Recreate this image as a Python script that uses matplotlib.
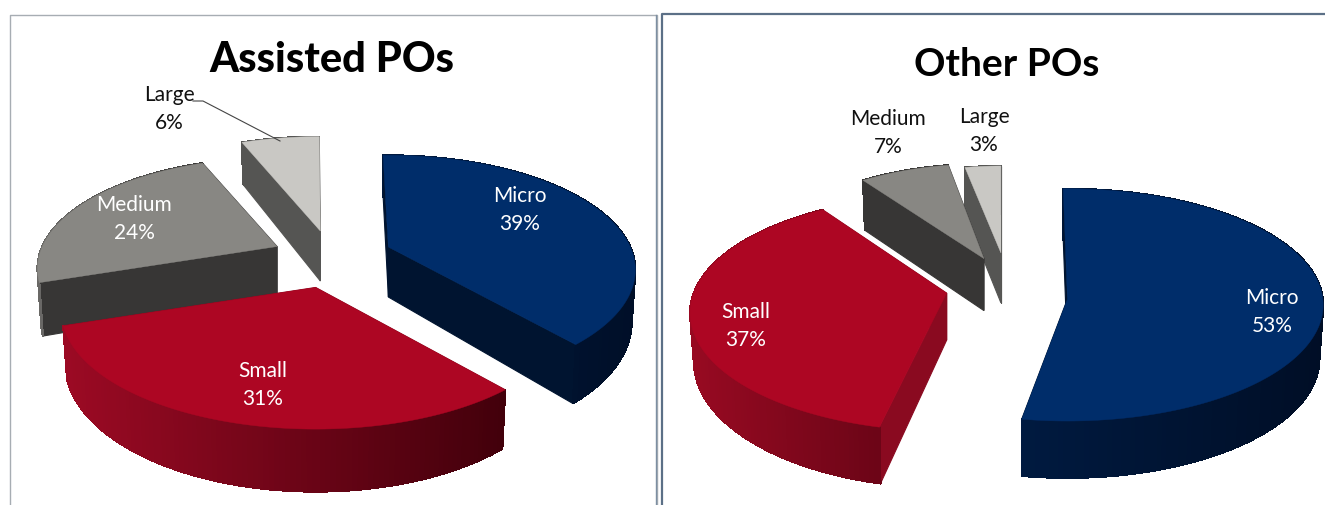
import matplotlib
matplotlib.use("Agg")
import matplotlib.pyplot as plt
import numpy as np
from matplotlib.colors import to_rgb

plt.rcParams["font.family"] = ["Lato", "DejaVu Sans"]

SIZES = ["Micro", "Small", "Medium", "Large"]
ASSISTED_SHARE = [39, 31, 24, 6]
OTHER_SHARE = [53, 37, 7, 3]

TOP_COLORS = ["#002d6a", "#ad0623", "#888783", "#c9c8c4"]
CUT_COLORS = ["#001430", "#8a0a20", "#373635", "#555553"]
LABEL_COLORS_LEFT = ["white", "white", "white", "#111111"]
LABEL_COLORS_RIGHT = ["white", "white", "#111111", "#111111"]

# perspective pies, all in pixel space
# wall shading runs from the left end of a slice to its right end
LEFT_PIE = dict(center=(332, 258), rx=242, ry=110, k=[0.20, 0.20, 0.20, 0.20],
                start=91.5, depth=[50, 50, 50, 50],
                explode=[0.25, 0.25, 0.25, 0.25], scale=[1, 1.03, 0.97, 1.03],
                turn=[0, -1, -1, -1.2], lift=[0, -4, -1, -1],
                walls=[("#001a40", "#000f28"), ("#9c0a24", "#42000b"),
                       ("#6a6966", "#373635"), ("#555553", "#555553")])
RIGHT_PIE = dict(center=(1007, 296), rx=258, ry=117, k=[0.05, 0.17, 0.05, 0.05],
                 start=92, depth=[54, 47, 52, 50],
                 explode=[0.235, 0.238, 0.235, 0.25], scale=[0.99, 0.98, 0.85, 0.78],
                 turn=[-1, -4, -3, -2], lift=[-2, 7, 11, 13],
                 walls=[("#001a40", "#000e26"), ("#980a22", "#6c0517"),
                        ("#373635", "#373635"), ("#555553", "#555553")])

LEFT_LABELS = [(520, 210), (263, 385), (134, 219), (169, 109)]
RIGHT_LABELS = [(1272, 312), (746, 326), (888, 133), (984, 131)]


def draw_slice(ax, pie, i, t0, t1):
    # t0 > t1, angles run clockwise on screen
    t0 += pie["turn"][i]
    t1 += pie["turn"][i]
    mid = np.radians((t0 + t1) / 2)
    e = pie["explode"][i]
    ax_x = pie["center"][0] + e * pie["rx"] * np.cos(mid)
    ax_y = pie["center"][1] - e * pie["ry"] * np.sin(mid) - pie["lift"][i]

    t = np.radians(np.linspace(t0, t1, max(int(t0 - t1), 8)))
    denom = 1 + pie["k"][i] * np.sin(t)
    x = ax_x + pie["scale"][i] * pie["rx"] * np.cos(t) / denom
    y = ax_y - pie["scale"][i] * pie["ry"] * np.sin(t) / denom
    low_x = ax_x + (x - ax_x) * 0.985
    low_y = y + pie["depth"][i] / denom
    low_ax_y = ax_y + pie["depth"][i]

    # collect the side faces, then paint them back to front
    c0, c1 = (to_rgb(c) for c in pie["walls"][i])
    span = max(x.max() - x.min(), 1)
    faces = []
    for j in range(len(t) - 1):
        f = ((x[j] + x[j + 1]) / 2 - x.min()) / span
        col = tuple(a + (b - a) * f for a, b in zip(c0, c1))
        faces.append(((y[j] + y[j + 1]) / 2,
                      [x[j], x[j + 1], low_x[j + 1], low_x[j]],
                      [y[j], y[j + 1], low_y[j + 1], low_y[j]], col, False))
    for end in (0, -1):
        faces.append(((ax_y + y[end]) / 2,
                      [ax_x, x[end], low_x[end], ax_x],
                      [ax_y, y[end], low_y[end], low_ax_y], CUT_COLORS[i], True))
    for _, fx, fy, col, smooth in sorted(faces, key=lambda f: f[0]):
        # aliased strips leave no seams between neighbours
        ax.fill(fx, fy, color=col, lw=0.8, antialiased=smooth)

    ax.fill(np.r_[ax_x, x], np.r_[ax_y, y], color=TOP_COLORS[i], lw=0.3)


def draw_pie(ax, pie, shares):
    edges = pie["start"] - np.cumsum([0] + shares) * 3.6
    # back slices first so the nearer ones overlap them
    order = []
    for i in range(len(shares)):
        t0, t1 = edges[i] + pie["turn"][i], edges[i + 1] + pie["turn"][i]
        mid = np.radians((t0 + t1) / 2)
        order.append(pie["center"][1] - pie["explode"][i] * pie["ry"] * np.sin(mid) - pie["lift"][i])
    for i in np.argsort(order):
        draw_slice(ax, pie, i, edges[i], edges[i + 1])


def draw_labels(ax, shares, spots, colors):
    for name, share, (x, y), col in zip(SIZES, shares, spots, colors):
        ax.text(x, y, f"{name}\n{share}%", color=col, fontsize=15, ha="center",
                va="center", linespacing=1.5)


fig = plt.figure(figsize=(13.25, 5.06), dpi=100)
ax = fig.add_axes([0, 0, 1, 1])
ax.set_xlim(0, 1325)
ax.set_ylim(506, 0)
ax.axis("off")

# panel frames
ax.plot([9.5, 9.5, 657, 657], [506, 16, 16, 506], color="#a7adb3", lw=1.0)
ax.plot([655.5, 655.5], [16, 506], color="#7d8fa3", lw=1.0)
ax.plot([662, 662, 1325], [506, 15, 15], color="#5c7087", lw=1.6)

draw_pie(ax, LEFT_PIE, ASSISTED_SHARE)
draw_pie(ax, RIGHT_PIE, OTHER_SHARE)

draw_labels(ax, ASSISTED_SHARE, LEFT_LABELS, LABEL_COLORS_LEFT)
draw_labels(ax, OTHER_SHARE, RIGHT_LABELS, LABEL_COLORS_RIGHT)

# leader for the small slice on the left pie
ax.plot([193, 203, 280], [102, 102, 142], color="#444444", lw=0.8)

ax.text(332, 60, "Assisted POs", fontsize=30, fontweight="black", ha="center",
        va="center", color="black")
ax.text(1007, 64, "Other POs", fontsize=28, fontweight="bold", ha="center",
        va="center", color="black")

fig.savefig("out.png", dpi=100)
